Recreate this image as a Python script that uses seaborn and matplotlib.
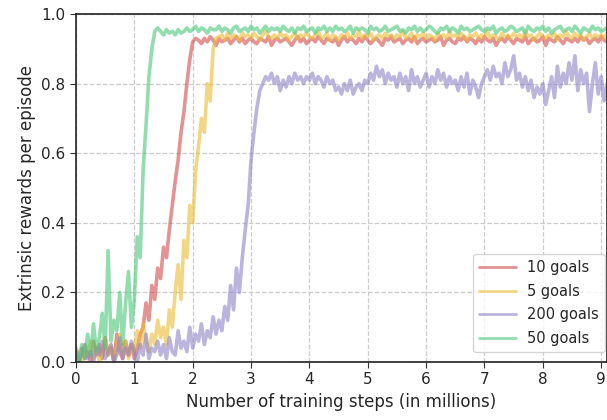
import numpy as np
import pandas as pd
import matplotlib
matplotlib.use("Agg")
import matplotlib.pyplot as plt
import seaborn as sns

# training steps (in millions), one reading every 0.05M
steps = np.round(np.arange(0, 9.1001, 0.05), 2)

labels = ["10 goals", "5 goals", "200 goals", "50 goals"]
colors = ["#d34a4a", "#eabc33", "#8e83c7", "#4ac777"]

goals_10 = [0.02, 0.00, 0.04, 0.01, 0.03, 0.00, 0.06, 0.02, 0.05, 0.01,
            0.07, 0.02, 0.04, 0.00, 0.08, 0.03, 0.01, 0.06, 0.02, 0.05,
            0.01, 0.04, 0.08,
            0.10, 0.17, 0.12, 0.22, 0.18, 0.27, 0.24, 0.33, 0.30, 0.38,
            0.45, 0.52, 0.58, 0.66, 0.72, 0.80, 0.87, 0.92, 0.93,
            0.925, 0.915, 0.93, 0.92, 0.935, 0.925, 0.91, 0.93, 0.92, 0.925,
            0.93, 0.915, 0.925, 0.935, 0.92, 0.93, 0.915, 0.925, 0.93, 0.92,
            0.915, 0.93, 0.925, 0.92, 0.935, 0.91, 0.925, 0.93, 0.92, 0.925,
            0.93, 0.92, 0.91, 0.925, 0.935, 0.92, 0.93, 0.915, 0.925, 0.93,
            0.92, 0.935, 0.925, 0.915, 0.93, 0.925, 0.92, 0.93, 0.91, 0.925,
            0.935, 0.92, 0.93, 0.925, 0.915, 0.93, 0.92, 0.935, 0.925, 0.915,
            0.925, 0.93, 0.92, 0.91, 0.93, 0.925, 0.935, 0.92, 0.925, 0.93,
            0.915, 0.925, 0.93, 0.92, 0.935, 0.915, 0.925, 0.93, 0.92, 0.925,
            0.93, 0.92, 0.925, 0.935, 0.91, 0.925, 0.93, 0.92, 0.915, 0.93,
            0.925, 0.935, 0.92, 0.93, 0.925, 0.915, 0.93, 0.92, 0.935, 0.925,
            0.92, 0.93, 0.91, 0.925, 0.93, 0.92, 0.935, 0.925, 0.915, 0.93,
            0.925, 0.92, 0.935, 0.915, 0.925, 0.93, 0.92, 0.925, 0.935, 0.91,
            0.93, 0.925, 0.92, 0.935, 0.925, 0.915, 0.93, 0.925, 0.92, 0.93,
            0.92, 0.935, 0.925, 0.93, 0.915, 0.925, 0.93, 0.92, 0.935, 0.925,
            0.92]

goals_5 = [0.01, 0.03, 0.00, 0.05, 0.02, 0.06, 0.01, 0.04, 0.00, 0.03,
           0.07, 0.02, 0.05, 0.01, 0.04, 0.08, 0.02, 0.06, 0.01, 0.05,
           0.03, 0.09, 0.04, 0.11, 0.06, 0.03, 0.08, 0.05, 0.12, 0.07,
           0.10, 0.05,
           0.15, 0.10, 0.20, 0.28, 0.18, 0.35, 0.30, 0.45, 0.40, 0.55,
           0.62, 0.70, 0.66, 0.80, 0.75, 0.90, 0.93,
           0.935, 0.94, 0.925, 0.945, 0.93, 0.94, 0.935, 0.925, 0.945, 0.935,
           0.94, 0.93, 0.945, 0.935, 0.925, 0.94, 0.95, 0.935, 0.93, 0.94,
           0.93, 0.945, 0.935, 0.94, 0.925, 0.935, 0.945, 0.93, 0.94, 0.935,
           0.945, 0.935, 0.93, 0.94, 0.95, 0.93, 0.935, 0.945, 0.925, 0.94,
           0.935, 0.925, 0.94, 0.935, 0.945, 0.93, 0.94, 0.935, 0.95, 0.93,
           0.94, 0.935, 0.945, 0.925, 0.935, 0.94, 0.93, 0.945, 0.935, 0.94,
           0.93, 0.94, 0.935, 0.95, 0.93, 0.935, 0.945, 0.925, 0.94, 0.935,
           0.945, 0.93, 0.94, 0.935, 0.925, 0.945, 0.935, 0.94, 0.93, 0.95,
           0.935, 0.94, 0.93, 0.945, 0.935, 0.925, 0.94, 0.935, 0.945, 0.93,
           0.94, 0.935, 0.95, 0.93, 0.94, 0.935, 0.925, 0.945, 0.935, 0.94,
           0.93, 0.945, 0.935, 0.94, 0.93, 0.95, 0.935, 0.94, 0.925, 0.935,
           0.945, 0.935, 0.93, 0.94, 0.935, 0.945, 0.925, 0.94, 0.935, 0.95,
           0.935, 0.93, 0.945, 0.935, 0.94, 0.925, 0.935, 0.945, 0.93, 0.94,
           0.935, 0.94, 0.93, 0.945]

goals_200 = [0.04, 0.00, 0.02, 0.05, 0.01, 0.03, 0.00, 0.04, 0.02, 0.06,
             0.01, 0.03, 0.05, 0.00, 0.02, 0.07, 0.01, 0.04, 0.02, 0.06,
             0.03, 0.00, 0.05, 0.02, 0.08, 0.01, 0.04, 0.03, 0.06, 0.02,
             0.05, 0.01, 0.07, 0.03, 0.02, 0.09, 0.04, 0.06, 0.03, 0.10,
             0.04, 0.08, 0.06, 0.11, 0.05, 0.09, 0.07, 0.13, 0.08, 0.12,
             0.09, 0.16, 0.12, 0.22, 0.15, 0.27, 0.20, 0.30, 0.38, 0.45,
             0.58, 0.66, 0.73, 0.78, 0.80, 0.82,
             0.81, 0.83, 0.80, 0.82, 0.78, 0.81,
             0.79, 0.82, 0.80, 0.83, 0.81, 0.82, 0.80, 0.82,
             0.81, 0.83, 0.80, 0.82, 0.81, 0.79, 0.82, 0.80, 0.81, 0.78,
             0.79, 0.77, 0.80, 0.78, 0.81, 0.77, 0.79, 0.80, 0.78, 0.81,
             0.80, 0.83, 0.81, 0.85, 0.82, 0.84, 0.80, 0.83, 0.81, 0.82,
             0.79, 0.83, 0.80, 0.82, 0.78, 0.84, 0.80, 0.82, 0.79, 0.81,
             0.83, 0.79, 0.82, 0.80, 0.84, 0.81, 0.83, 0.79, 0.82, 0.80,
             0.81, 0.78, 0.82, 0.79, 0.83, 0.77, 0.81, 0.79, 0.76, 0.80,
             0.82, 0.84, 0.81, 0.85, 0.82, 0.83, 0.80, 0.86, 0.82, 0.84,
             0.88, 0.81, 0.83, 0.79, 0.82, 0.78, 0.81, 0.76, 0.79, 0.77,
             0.80, 0.74, 0.78, 0.82, 0.76, 0.85, 0.79, 0.83, 0.80, 0.86,
             0.81, 0.88, 0.78, 0.84, 0.80, 0.83, 0.72, 0.80, 0.86, 0.77,
             0.82, 0.75, 0.80]

goals_50 = [0.03, 0.00, 0.05, 0.01, 0.08, 0.02, 0.11, 0.03, 0.07, 0.14,
            0.04, 0.32, 0.06, 0.12, 0.09, 0.20, 0.05, 0.17, 0.26, 0.10,
            0.18, 0.36, 0.30, 0.55, 0.68, 0.82, 0.90, 0.95,
            0.96, 0.95, 0.94, 0.955, 0.945, 0.95, 0.94, 0.955, 0.945, 0.95,
            0.96, 0.95, 0.955, 0.965, 0.95, 0.96, 0.955, 0.945, 0.96, 0.955,
            0.955, 0.965, 0.95, 0.96, 0.955, 0.945, 0.96, 0.965, 0.95, 0.955,
            0.96, 0.95, 0.965, 0.955, 0.96, 0.945, 0.955, 0.965, 0.95, 0.96,
            0.955, 0.96, 0.95, 0.965, 0.955, 0.95, 0.96, 0.945, 0.96, 0.955,
            0.965, 0.95, 0.955, 0.96, 0.945, 0.96, 0.955, 0.965, 0.95, 0.96,
            0.95, 0.965, 0.955, 0.96, 0.95, 0.955, 0.965, 0.945, 0.96, 0.955,
            0.96, 0.955, 0.945, 0.965, 0.955, 0.96, 0.95, 0.955, 0.965, 0.95,
            0.955, 0.96, 0.965, 0.95, 0.955, 0.945, 0.96, 0.955, 0.965, 0.95,
            0.96, 0.95, 0.955, 0.965, 0.96, 0.95, 0.945, 0.96, 0.955, 0.965,
            0.95, 0.96, 0.955, 0.945, 0.965, 0.955, 0.96, 0.95, 0.955, 0.96,
            0.965, 0.955, 0.95, 0.96, 0.955, 0.965, 0.945, 0.955, 0.96, 0.95,
            0.955, 0.965, 0.96, 0.95, 0.955, 0.96, 0.945, 0.965, 0.955, 0.95,
            0.96, 0.955, 0.965, 0.95, 0.96, 0.945, 0.955, 0.96, 0.965, 0.95,
            0.955, 0.96, 0.95, 0.965, 0.955, 0.945, 0.96, 0.955, 0.95, 0.965,
            0.955, 0.96, 0.95, 0.955, 0.96]

series = [goals_10, goals_5, goals_200, goals_50]

frames = []
for name, vals in zip(labels, series):
    frames.append(pd.DataFrame({"steps": steps, "reward": vals, "goals": name}))
df = pd.concat(frames, ignore_index=True)

sns.set_style("ticks")
plt.rcParams["font.family"] = ["DejaVu Sans"]

fig = plt.figure(figsize=(6.07, 4.20), dpi=100)
ax = fig.add_axes([0.1252, 0.138, 0.8748, 0.8286])

sns.lineplot(data=df, x="steps", y="reward", hue="goals", hue_order=labels,
             palette=colors, linewidth=2.6, alpha=0.6, estimator=None,
             sort=False, ax=ax)

ax.set_xlim(0, 9.1)
ax.set_ylim(0, 1.0)
ax.set_xticks(range(0, 10))
ax.set_yticks([0.0, 0.2, 0.4, 0.6, 0.8, 1.0])
ax.grid(True, linestyle="--", color="#cccccc", linewidth=0.9)
ax.tick_params(labelsize=11, direction="out", length=4, color="#333333")
for s in ax.spines.values():
    s.set_color("#222222")
    s.set_linewidth(1.2)

ax.set_xlabel("Number of training steps (in millions)", fontsize=12)
ax.set_ylabel("Extrinsic rewards per episode", fontsize=12)

leg = ax.legend(loc="lower right", bbox_to_anchor=(0.996, 0.029),
                borderaxespad=0, fontsize=10.5, frameon=True,
                handlelength=2.5, labelspacing=0.6)
for line in leg.get_lines():
    line.set_linewidth(2)

fig.savefig("out.png", dpi=100)
